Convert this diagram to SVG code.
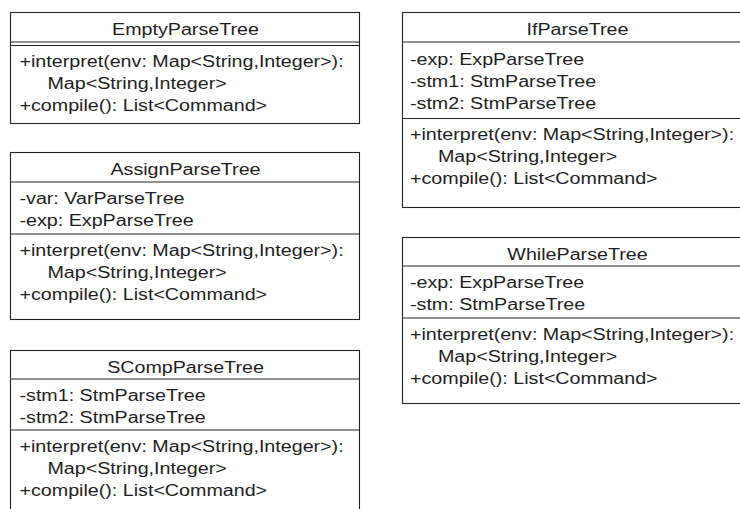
<svg xmlns="http://www.w3.org/2000/svg" width="740" height="509" viewBox="0 0 740 509">
<style>
.box{fill:#ffffff;stroke:#222222;stroke-width:1.1}
.ln{stroke:#222222;stroke-width:1.1;fill:none}
text{font-family:"Liberation Sans",Arial,sans-serif;font-size:16px;fill:#1e1e1e}
.t{text-anchor:middle}
</style>
<rect width="740" height="509" fill="#ffffff"/>
<g id="connectors"/>
<g id="EmptyParseTree">
<rect class="box" x="10.5" y="12.5" width="349" height="111"/>
<line class="ln" x1="10.5" y1="42" x2="359.5" y2="42"/>
<line class="ln" x1="10.5" y1="45.5" x2="359.5" y2="45.5"/>
<g transform="translate(19.5,0) scale(1.23,1)">
<text class="t" x="134.96" y="35.5">EmptyParseTree</text>
<text x="0" y="67.5">+interpret(env: Map&lt;String,Integer&gt;):</text>
<text x="22.76" y="89.5">Map&lt;String,Integer&gt;</text>
<text x="0" y="111.5">+compile(): List&lt;Command&gt;</text>
</g>
</g>
<g id="AssignParseTree">
<rect class="box" x="10.5" y="152.5" width="349" height="167"/>
<line class="ln" x1="10.5" y1="182" x2="359.5" y2="182"/>
<line class="ln" x1="10.5" y1="234" x2="359.5" y2="234"/>
<g transform="translate(19.5,0) scale(1.23,1)">
<text class="t" x="134.96" y="175.5">AssignParseTree</text>
<text x="0" y="204">-var: VarParseTree</text>
<text x="0" y="226">-exp: ExpParseTree</text>
<text x="0" y="256">+interpret(env: Map&lt;String,Integer&gt;):</text>
<text x="22.76" y="278">Map&lt;String,Integer&gt;</text>
<text x="0" y="300">+compile(): List&lt;Command&gt;</text>
</g>
</g>
<g id="SCompParseTree">
<rect class="box" x="10.5" y="350.5" width="349" height="200"/>
<line class="ln" x1="10.5" y1="379" x2="359.5" y2="379"/>
<line class="ln" x1="10.5" y1="430" x2="359.5" y2="430"/>
<g transform="translate(19.5,0) scale(1.23,1)">
<text class="t" x="134.96" y="373.5">SCompParseTree</text>
<text x="0" y="401">-stm1: StmParseTree</text>
<text x="0" y="423">-stm2: StmParseTree</text>
<text x="0" y="452">+interpret(env: Map&lt;String,Integer&gt;):</text>
<text x="22.76" y="474">Map&lt;String,Integer&gt;</text>
<text x="0" y="496">+compile(): List&lt;Command&gt;</text>
</g>
</g>
<g id="IfParseTree">
<rect class="box" x="402.5" y="12.5" width="349" height="195"/>
<line class="ln" x1="402.5" y1="42" x2="751.5" y2="42"/>
<line class="ln" x1="402.5" y1="118.5" x2="751.5" y2="118.5"/>
<g transform="translate(410,0) scale(1.23,1)">
<text class="t" x="136.18" y="35.5">IfParseTree</text>
<text x="0" y="65">-exp: ExpParseTree</text>
<text x="0" y="87">-stm1: StmParseTree</text>
<text x="0" y="109">-stm2: StmParseTree</text>
<text x="0" y="140">+interpret(env: Map&lt;String,Integer&gt;):</text>
<text x="22.76" y="162">Map&lt;String,Integer&gt;</text>
<text x="0" y="184">+compile(): List&lt;Command&gt;</text>
</g>
</g>
<g id="WhileParseTree">
<rect class="box" x="402.5" y="237.5" width="349" height="166"/>
<line class="ln" x1="402.5" y1="266" x2="751.5" y2="266"/>
<line class="ln" x1="402.5" y1="318" x2="751.5" y2="318"/>
<g transform="translate(410,0) scale(1.23,1)">
<text class="t" x="136.18" y="260.5">WhileParseTree</text>
<text x="0" y="288">-exp: ExpParseTree</text>
<text x="0" y="310">-stm: StmParseTree</text>
<text x="0" y="340">+interpret(env: Map&lt;String,Integer&gt;):</text>
<text x="22.76" y="362">Map&lt;String,Integer&gt;</text>
<text x="0" y="384">+compile(): List&lt;Command&gt;</text>
</g>
</g>
</svg>
